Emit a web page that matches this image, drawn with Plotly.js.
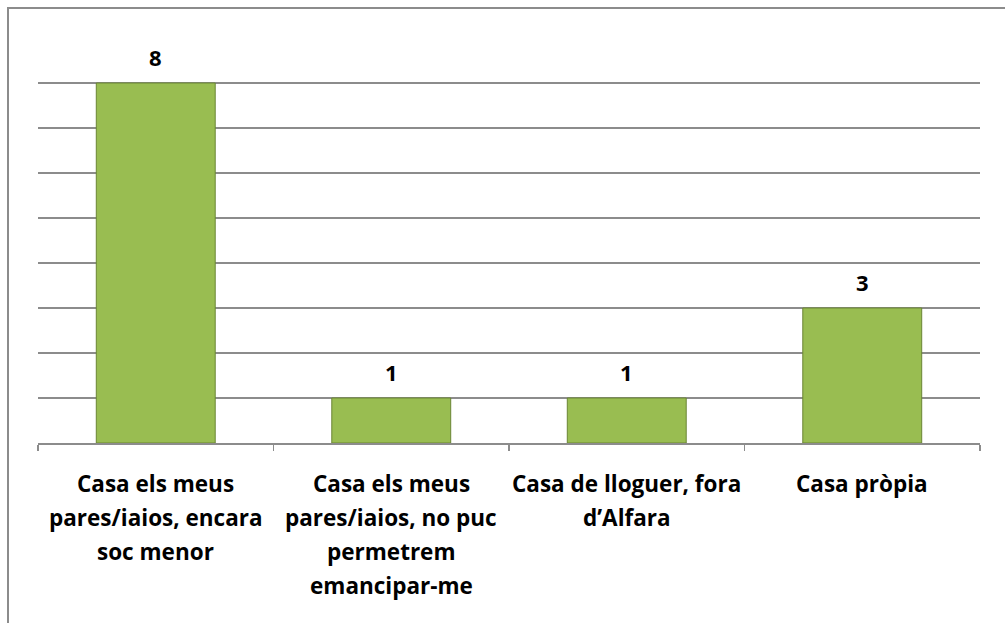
<!DOCTYPE html>
<html>
<head>
<meta charset="utf-8">
<script src="https://cdn.plot.ly/plotly-3.0.1.min.js"></script>
<style>
  html, body { margin: 0; padding: 0; background: #fff; }
  #wrap { position: relative; width: 1005px; height: 623px; overflow: hidden; }
  #chart { position: absolute; left: 0; top: 0; width: 1005px; height: 623px; }
  #frame { position: absolute; left: 7px; top: 7px; width: 1010px; height: 700px;
           border: 2px solid #8c8c8c; pointer-events: none; }
</style>
</head>
<body>
<div id="wrap">
  <div id="chart"></div>
  <div id="frame"></div>
</div>
<script>
const categories = [
  "Casa els meus<br>pares/iaios, encara<br>soc menor",
  "Casa els meus<br>pares/iaios, no puc<br>permetrem<br>emancipar-me",
  "Casa de lloguer, fora<br>d\u2019Alfara",
  "Casa pròpia"
];
const values = [8, 1, 1, 3];
const valueLabels = ["8", "1", "1", "3"];

const FONT = "'Open Sans', sans-serif";

const bars = {
  type: "bar",
  x: categories,
  y: values,
  width: 0.505,
  marker: { color: "#99bd51", line: { color: "#6a8534", width: 1 } },
  hoverinfo: "skip"
};

const annotations = [];
values.forEach((v, i) => {
  annotations.push({
    x: categories[i], y: v, xref: "x", yref: "y",
    text: "<b>" + valueLabels[i] + "</b>",
    showarrow: false, yanchor: "bottom", yshift: 9,
    font: { family: FONT, size: 22, color: "#000" }
  });
  categories[i].split("<br>").forEach((line, j) => {
    annotations.push({
      x: categories[i], y: 0, xref: "x", yref: "y",
      text: "<b>" + line + "</b>",
      showarrow: false, yanchor: "middle", yshift: -(40 + 34 * j),
      font: { family: FONT, size: 22.5, color: "#000" }
    });
  });
});

const layout = {
  width: 1005, height: 623,
  margin: { l: 38, r: 25, t: 38, b: 180 },
  paper_bgcolor: "rgba(0,0,0,0)",
  plot_bgcolor: "rgba(0,0,0,0)",
  showlegend: false,
  xaxis: {
    type: "category",
    showticklabels: false,
    ticks: "outside", tickson: "boundaries", ticklen: 6,
    tickcolor: "#8c8c8c", tickwidth: 1.5,
    showline: true, linecolor: "#8c8c8c", linewidth: 1.5,
    showgrid: false, zeroline: false
  },
  yaxis: {
    range: [0, 9], dtick: 1, tick0: 0,
    showticklabels: false, ticks: "",
    showgrid: true, gridcolor: "#8c8c8c", gridwidth: 1.5,
    zeroline: false, showline: false
  },
  annotations: annotations
};

Plotly.newPlot("chart", [bars], layout, { displayModeBar: false, staticPlot: true });
</script>
</body>
</html>
